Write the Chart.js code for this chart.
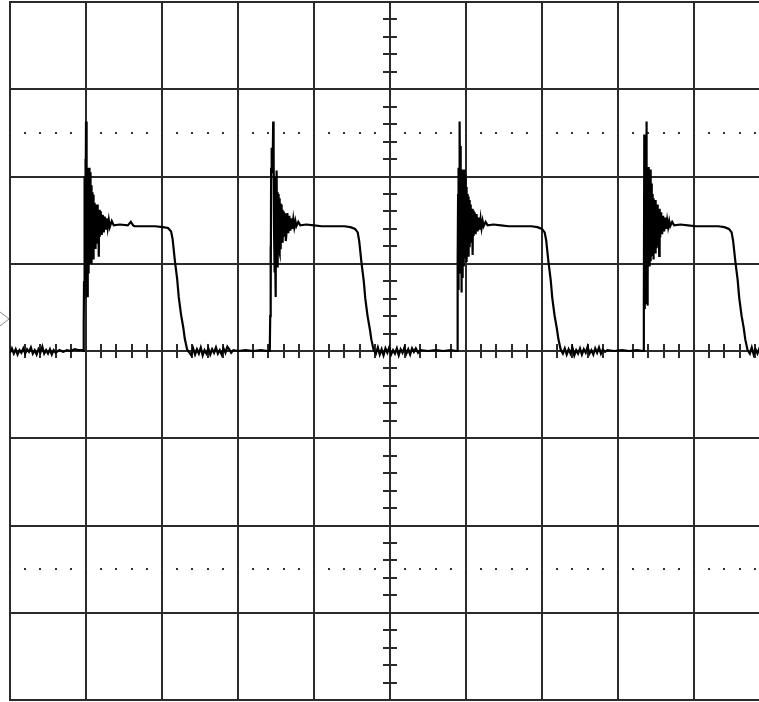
<!DOCTYPE html>
<html>
<head>
<meta charset="utf-8">
<script src="https://cdn.jsdelivr.net/npm/chart.js@4/dist/chart.umd.min.js"></script>
<style>
html,body{margin:0;padding:0;background:#fff;overflow:hidden;}
#wrap{position:absolute;left:0;top:0;width:780px;height:702px;}
</style>
</head>
<body>
<div id="wrap"><canvas id="c" width="780" height="702"></canvas></div>
<script>
// Units: 10 per screen division. x: 0..100 (10 divisions), y: -40..40 (8 divisions)
const xRange = [0, 100];
const yRange = [-40, 40];
const majorStep = 10;
const minorStep = 2;
const dottedLevels = [25, -25];
const groundMarker = 3.67;

const seg0 = [[0,-0.2],[0.25,0.3],[0.5,-0.3],[0.75,0.2],[1,-0.4],[1.25,0.1],[1.5,-0.2],[1.75,0.3],[2,-0.3],[2.25,0.2],[2.5,-0.1],[2.75,0.4],[3,-0.3],[3.25,0.1],[3.5,-0.4],[3.75,0.2],[4,-0.2],[4.25,0.5],[4.5,-0.3],[4.75,0.1],[5,-0.3],[5.25,0.2],[5.5,-0.4],[5.75,0.1],[6,-0.2],[6.5,0.1],[7,-0.1],[7.5,0.1],[8,0],[8.5,0.2],[9,0.1],[9.5,0.1]];

const pulse1 = [[9.63,0],[9.7,3],[9.74,8],[9.78,17],[9.81,6],[9.85,20],[9.88,8],[9.92,22],[9.96,15],[10.0,26.3],[10.03,16],[10.06,24],[10.1,14],[10.13,21],[10.16,6.3],[10.2,19.5],[10.23,8],[10.26,20.5],[10.3,9],[10.33,21],[10.36,9.5],[10.4,20],[10.43,10],[10.46,21],[10.5,10.5],[10.53,19.5],[10.56,11],[10.6,20.5],[10.63,11.5],[10.66,19],[10.7,11],[10.73,18.5],[10.76,10],[10.8,18.2],[10.83,11.3],[10.86,17.6],[10.9,11.6],[10.93,17.9],[10.96,10.5],[11.0,17.2],[11.03,12],[11.06,17],[11.1,11.8],[11.13,16.9],[11.16,12.3],[11.2,16.5],[11.23,12.6],
[11.28,11.7],[11.35,16.8],[11.41,12.3],[11.48,16.8],[11.54,12.8],[11.61,16.2],[11.68,10.8],[11.74,16.2],[11.81,13.1],[11.94,16.0],[12.07,13.3],[12.20,15.6],[12.34,13.6],[12.47,15.4],[12.60,13.9],[12.73,15.2],[12.86,14.1],[13.00,15.0],[13.13,14.2],[13.39,14.9],[13.65,14.4],
[14.45,14.5],[15.5,14.4],[15.9,14.8],[16.2,14.4],[16.4,14.3],[17.7,14.3],[19.1,14.3],[20.1,14.2],[20.8,14.1],
[21.2,13.7],[21.4,12.8],[21.7,10.3],[22.0,8.2],[22.2,6.2],[22.5,4.2],[22.8,2.7],[23.0,1.4],[23.3,0.2],[23.6,-0.2],
[23.85,-0.5],[24.1,0.3],[24.35,-0.4],[24.6,0.2],[24.85,-0.3],[25.1,0.4],[25.35,-0.5],[25.6,0.1],[25.85,-0.3],[26.1,0.3],[26.35,-0.4],[26.6,0.2],[26.85,-0.2],[27.1,0.4],[27.35,-0.3],[27.6,0.1],[27.85,-0.4],[28.1,0.3],[28.35,-0.2],[28.6,0.5],[28.85,0.2],[29.1,-0.2],[29.4,0.1],
[30,0],[31,0.1],[32,0],[33,0.1],[33.9,0]];

const pulse2 = [[34.18,0],[34.24,4],[34.28,12],[34.32,5],[34.36,21],[34.4,23.3],[34.43,20.4],[34.47,23.0],[34.5,20.6],[34.54,23.3],[34.57,21],[34.63,26.3],[34.67,20.5],[34.7,23],[34.74,14],[34.78,20],[34.82,9],[34.86,18],[34.9,10],[34.96,6.2],[35.0,18.5],[35.04,10],[35.08,19],[35.12,20.7],[35.16,9.7],[35.2,18.2],[35.24,10.5],[35.28,17.8],[35.32,11],[35.36,18],[35.4,11.5],[35.44,17.5],[35.48,11.2],[35.52,17.1],[35.56,11.8],[35.6,16.9],[35.64,12.2],[35.68,16.8],[35.72,12.5],[35.76,16.4],[35.8,12.8],[35.84,16.2],[35.9,12.4],[35.96,16.0],[36.03,13.1],[36.09,15.8],[36.16,13.2],[36.23,15.7],[36.29,12.6],
[36.36,13.3],[36.49,15.8],[36.62,13.5],[36.75,15.5],[36.89,13.8],[37.02,15.2],[37.15,14.0],[37.28,15.1],[37.41,14.2],[37.55,14.9],[37.68,14.3],[37.94,14.8],[38.2,14.4],
[39.0,14.5],[40.0,14.4],[41.0,14.3],[42.5,14.3],[44.0,14.3],[44.8,14.2],[45.4,14.0],
[45.75,13.6],[45.95,12.6],[46.25,10.1],[46.55,8.0],[46.75,6.0],[47.05,4.0],[47.35,2.5],[47.55,1.3],[47.85,0.1],[48.15,-0.3],
[48.4,0.4],[48.65,-0.4],[48.9,0.2],[49.15,-0.5],[49.4,0.3],[49.65,-0.2],[49.9,0.4],[50.15,-0.4],[50.4,0.1],[50.65,-0.3],[50.9,0.3],[51.15,-0.5],[51.4,0.2],[51.65,-0.2],[51.9,0.4],[52.15,-0.3],[52.4,0.2],[52.65,-0.4],[52.9,0.3],[53.15,-0.1],[53.4,0.3],[53.7,-0.2],[54.0,0.1],
[55,0],[56,0.1],[57,0],[58,0.1],[58.75,0]];

const pulse3 = [[58.82,0],[58.88,4],[58.92,10],[58.96,18],[59.0,7],[59.04,21],[59.08,9],[59.12,22.5],[59.16,16],[59.2,26.3],[59.24,15],[59.28,23.5],[59.32,13],[59.36,20.5],[59.4,6.7],[59.44,19.8],[59.48,8.5],[59.52,20.8],[59.56,9.2],[59.6,20.6],[59.64,9.8],[59.68,19.9],[59.72,10.3],[59.76,20.8],[59.8,10.6],[59.84,19.2],[59.88,11.2],[59.92,20.2],[59.96,11.6],[60.0,18.8],[60.04,10.9],[60.08,18.3],[60.12,10.2],[60.16,18.0],[60.2,11.5],[60.24,17.4],[60.28,11.4],[60.32,17.7],[60.36,10.8],[60.4,17.3],[60.44,12.1],[60.48,16.9],[60.52,11.9],[60.56,16.8],[60.6,12.4],[60.64,16.4],[60.68,12.7],
[60.73,12.7],[60.8,16.3],[60.87,11.0],[60.93,16.1],[61.0,13.2],[61.13,15.9],[61.26,13.4],[61.39,15.7],[61.53,13.7],[61.66,15.3],[61.79,13.9],[61.92,15.1],[62.05,14.1],[62.19,14.9],[62.32,14.3],[62.58,14.8],[62.84,14.4],
[63.6,14.5],[64.6,14.4],[65.6,14.3],[67.1,14.3],[68.6,14.3],[69.4,14.2],[70.0,14.0],
[70.35,13.6],[70.55,12.7],[70.85,10.2],[71.15,8.1],[71.35,6.1],[71.65,4.1],[71.95,2.6],[72.15,1.4],[72.45,0.2],[72.75,-0.3],
[73.0,0.3],[73.25,-0.4],[73.5,0.2],[73.75,-0.3],[74.0,0.4],[74.25,-0.5],[74.5,0.1],[74.75,-0.3],[75.0,0.3],[75.25,-0.4],[75.5,0.2],[75.75,-0.2],[76.0,0.5],[76.25,-0.3],[76.5,0.1],[76.75,-0.4],[77.0,0.3],[77.25,-0.2],[77.5,0.4],[77.75,-0.3],[78.0,0.2],[78.3,-0.1],[78.6,0.1],
[79.5,0],[80.5,0.1],[81.5,0],[82.5,0.1],[83.3,0]];

const pulse4 = [[83.38,0],[83.42,5],[83.46,24.8],[83.5,4.8],[83.54,24],[83.58,5.5],[83.62,22],[83.66,6],[83.7,24.8],[83.74,26.3],[83.78,12],[83.82,19],[83.86,5.2],[83.9,20],[83.94,8],[83.98,21],[84.02,9.7],[84.06,21.1],[84.1,9.8],[84.14,20.5],[84.18,10],[84.22,20.8],[84.26,10.3],[84.3,19.5],[84.34,10.6],[84.38,19.2],[84.42,11],[84.46,18.5],[84.5,11],[84.54,18],[84.58,11.5],[84.62,17.5],[84.66,10.5],[84.7,17.3],[84.76,11.5],[84.82,16.9],[84.89,11.3],[84.95,17.3],
[85.02,11.9],[85.09,16.7],[85.15,12.2],[85.22,16.8],[85.28,12.9],[85.35,16.1],[85.42,10.9],[85.48,16.3],[85.55,13.0],[85.68,15.9],[85.81,13.4],[85.94,15.5],[86.08,13.7],[86.21,15.3],[86.34,14.0],[86.47,15.0],[86.6,14.2],[86.74,14.9],[86.87,14.3],[87.13,14.8],[87.39,14.4],
[88.2,14.5],[89.2,14.4],[90.2,14.3],[91.7,14.3],[93.2,14.3],[94.0,14.2],[94.6,14.0],
[94.95,13.6],[95.15,12.6],[95.45,10.2],[95.75,8.1],[95.95,6.1],[96.25,4.1],[96.55,2.6],[96.75,1.3],[97.05,0.1],[97.35,-0.3],
[97.6,0.4],[97.85,-0.4],[98.1,0.2],[98.35,-0.3],[98.6,0.3],[98.85,-0.4],[99.1,0.2],[99.35,-0.3],[99.6,0.3],[99.85,-0.2],[100,0.1]];

const trace = [...seg0, ...pulse1, ...pulse2, ...pulse3, ...pulse4].map(([x, y]) => ({x, y}));

const GRID = '#2a2a2a';

const scopeMarks = {
  id: 'scopeMarks',
  beforeDatasetsDraw(chart) {
    const {ctx, scales: {x, y}} = chart;
    ctx.save();
    const x0 = Math.round(x.getPixelForValue((xRange[0] + xRange[1]) / 2));
    const y0 = Math.round(y.getPixelForValue(0));
    ctx.strokeStyle = GRID;
    ctx.lineWidth = 2;
    ctx.beginPath();
    for (let t = xRange[0]; t <= xRange[1]; t += minorStep) {
      if (t % majorStep === 0) continue;
      const px = Math.round(x.getPixelForValue(t));
      ctx.moveTo(px, y0 - 7); ctx.lineTo(px, y0 + 7);
    }
    for (let t = yRange[0]; t <= yRange[1]; t += minorStep) {
      if (t % majorStep === 0) continue;
      const py = Math.round(y.getPixelForValue(t));
      ctx.moveTo(x0 - 7, py); ctx.lineTo(x0 + 7, py);
    }
    ctx.stroke();
    ctx.fillStyle = '#333';
    for (const lv of dottedLevels) {
      const py = Math.round(y.getPixelForValue(lv));
      for (let t = xRange[0]; t <= xRange[1]; t += minorStep) {
        const px = Math.round(x.getPixelForValue(t));
        ctx.fillRect(px - 1, py - 1, 2, 2);
      }
    }
    const gy = y.getPixelForValue(groundMarker);
    ctx.strokeStyle = '#888';
    ctx.lineWidth = 1;
    ctx.beginPath();
    ctx.moveTo(0, gy - 7); ctx.lineTo(9, gy); ctx.lineTo(0, gy + 7);
    ctx.stroke();
    ctx.restore();
  }
};

new Chart(document.getElementById('c'), {
  type: 'scatter',
  data: {
    datasets: [{
      data: trace,
      showLine: true,
      borderColor: '#000',
      borderWidth: 2.2,
      pointRadius: 0,
      tension: 0,
      fill: false
    }]
  },
  options: {
    responsive: false,
    animation: false,
    devicePixelRatio: 1,
    events: [],
    layout: { padding: { left: 10, right: 10, top: 2, bottom: 2 } },
    plugins: { legend: { display: false }, tooltip: { enabled: false } },
    scales: {
      x: {
        type: 'linear', min: xRange[0], max: xRange[1],
        ticks: { display: false, stepSize: majorStep },
        grid: { color: GRID, lineWidth: 2, drawTicks: false },
        border: { display: true, color: GRID, width: 2 }
      },
      y: {
        type: 'linear', min: yRange[0], max: yRange[1],
        ticks: { display: false, stepSize: majorStep },
        grid: { color: GRID, lineWidth: 2, drawTicks: false },
        border: { display: true, color: GRID, width: 2 }
      }
    }
  },
  plugins: [scopeMarks]
});
</script>
</body>
</html>
